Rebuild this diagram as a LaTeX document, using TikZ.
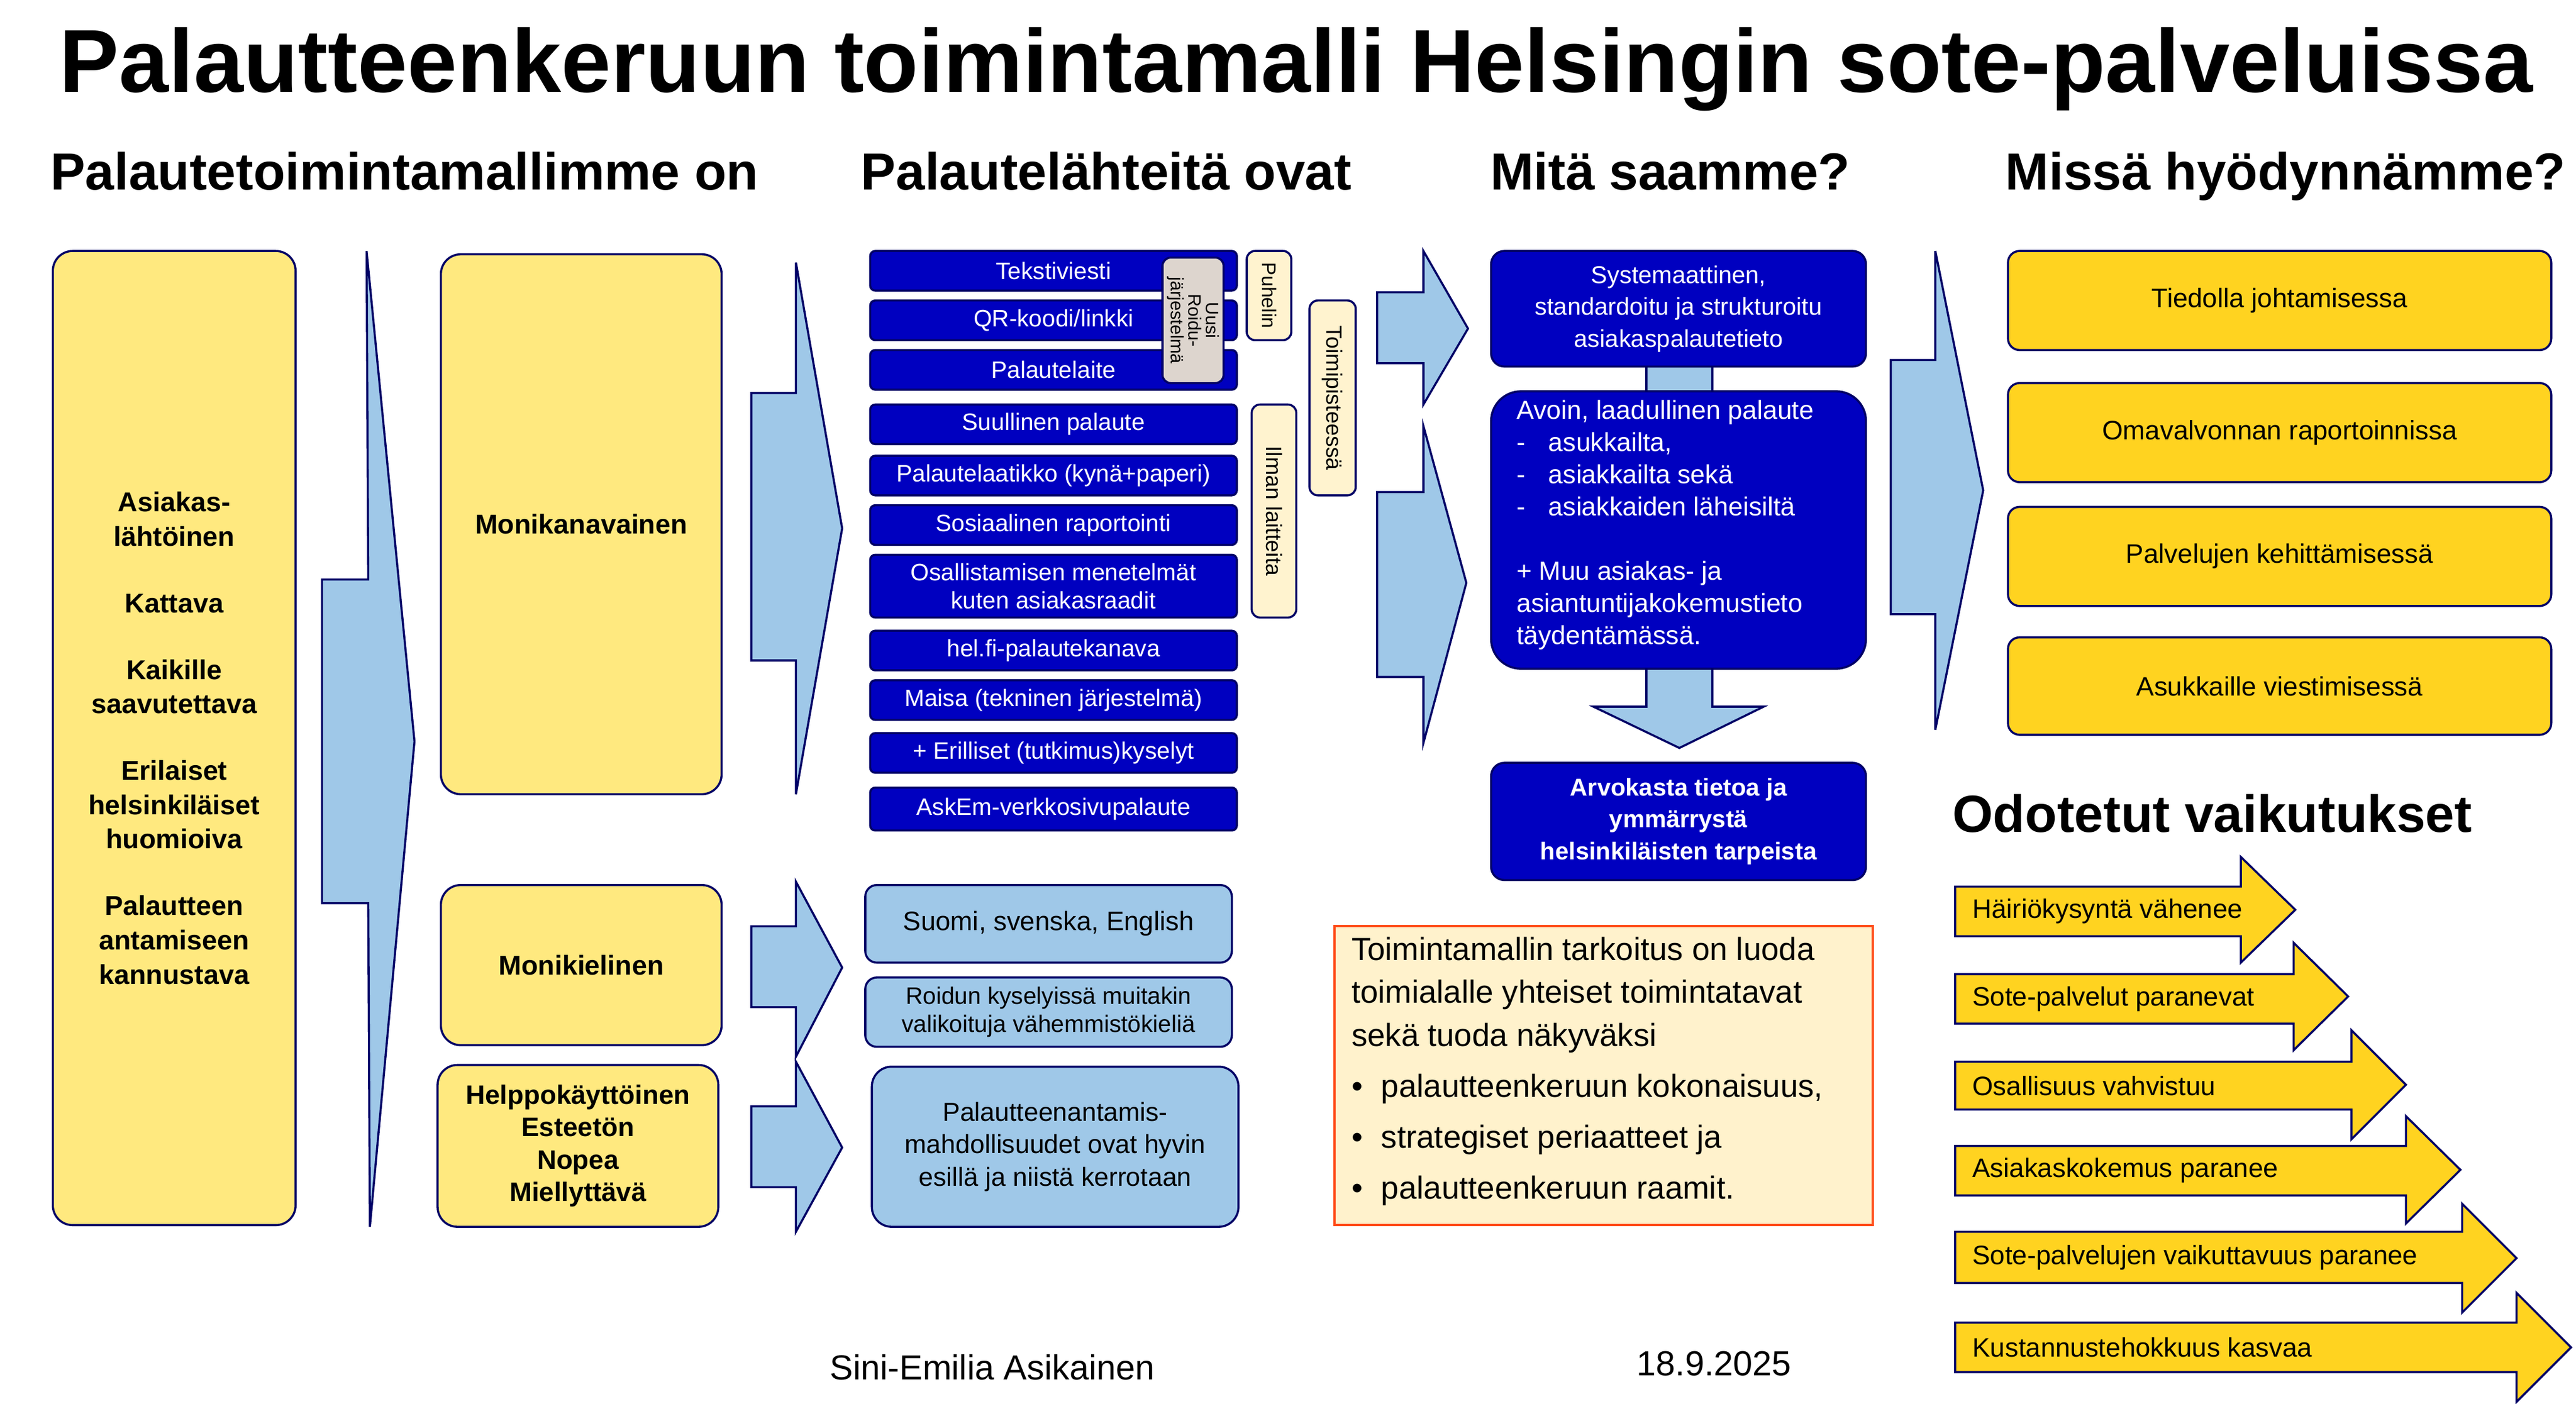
\documentclass[tikz,border=0pt]{standalone}
\usepackage{fontspec}
\setmainfont{Liberation Sans}
\definecolor{pyel}{HTML}{FFE97F}
\definecolor{navy}{HTML}{000066}
\definecolor{dblue}{HTML}{0000C0}
\definecolor{lblue}{HTML}{9FC8E8}
\definecolor{gold}{HTML}{FFD320}
\definecolor{cream}{HTML}{FFF3CF}
\definecolor{gray1}{HTML}{DDD5CE}
\definecolor{oran}{HTML}{FF4D1A}
\definecolor{ofill}{HTML}{FFF2CC}
\newcommand\bx[7]{\node[#1, minimum width={(#5-#3)*0.05cm}, minimum height={(#6-#4)*0.05cm}] (#2) at ({(#3+#5)/2},{(#4+#6)/2}) {#7};}
\newcommand\rbx[7]{\node[#1, rotate=-90, minimum height={(#5-#3)*0.05cm}, minimum width={(#6-#4)*0.05cm}] (#2) at ({(#3+#5)/2},{(#4+#6)/2}) {#7};}
\tikzset{
 base/.style={draw=navy, line width=1.8pt, inner sep=1pt, align=center},
 ybox/.style={base, fill=pyel, rounded corners=0.6cm, font=\bfseries\fontsize{23.5}{29.5}\selectfont},
 dbox/.style={base, fill=dblue, rounded corners=0.15cm, text=white, font=\fontsize{20.5}{24}\selectfont},
 cbox/.style={base, fill=dblue, rounded corners=0.5cm, text=white, font=\fontsize{21}{27.5}\selectfont},
 lbox/.style={base, fill=lblue, rounded corners=0.35cm, font=\fontsize{23}{27.5}\selectfont},
 gbox/.style={base, fill=gold, rounded corners=0.35cm, font=\fontsize{23}{27}\selectfont},
 tag/.style={base, fill=cream, rounded corners=0.25cm, font=\fontsize{15}{16}\selectfont},
 arr/.style={draw=navy, line width=1.8pt, fill=lblue},
 yarr/.style={draw=navy, line width=1.8pt, fill=gold},
 hdr/.style={font=\bfseries\fontsize{45}{50}\selectfont, anchor=base west},
}
\begin{document}
\begin{tikzpicture}[x=0.05cm, y=-0.05cm]
\useasboundingbox (0,0) rectangle (1560,850);
\node[font=\bfseries\fontsize{77}{80}\selectfont] (title) at (785,42) {Palautteenkeruun toimintamalli Helsingin sote-palveluissa};
\node[hdr] (h1) at (28,115) {Palautetoimintamallimme on};
\node[hdr] (h2) at (519,115) {Palautelähteitä ovat};
\node[hdr] (h3) at (900,115) {Mitä saamme?};
\node[hdr] (h4) at (1212,115) {Missä hyödynnämme?};
\node[hdr] (h5) at (1180,504) {Odotetut vaikutukset};

% column 1
\bx{ybox}{left}{32}{152}{179}{742}{Asiakas-\\lähtöinen\\[28pt]Kattava\\[28pt]Kaikille\\saavutettava\\[28pt]Erilaiset\\helsinkiläiset\\huomioiva\\[28pt]Palautteen\\antamiseen\\kannustava}
\draw[arr] (222,152) -- (251,449) -- (224,743) -- (223,547) -- (195,547) -- (195,351) -- (223,351) -- cycle;
\bx{ybox}{moka}{267}{154}{437}{481}{Monikanavainen}
\bx{ybox}{moki}{267}{536}{437}{633}{Monikielinen}
\bx{ybox, font=\bfseries\fontsize{23}{28}\selectfont}{help}{265}{645}{435}{743}{Helppokäyttöinen\\Esteetön\\Nopea\\Miellyttävä}
\draw[arr] (482,159) -- (510,320) -- (482,481) -- (482,400) -- (455,400) -- (455,238) -- (482,238) -- cycle;
\draw[arr] (482,534) -- (510,586) -- (482,640) -- (482,610) -- (455,610) -- (455,561) -- (482,561) -- cycle;
\draw[arr] (482,643) -- (510,695) -- (482,746) -- (482,719) -- (455,719) -- (455,670) -- (482,670) -- cycle;

% column 2
\bx{dbox}{s1}{527}{152}{749}{176}{Tekstiviesti}
\bx{dbox}{s2}{527}{182}{749}{206}{QR-koodi/linkki}
\bx{dbox}{s3}{527}{212}{749}{236}{Palautelaite}
\bx{dbox}{s4}{527}{245}{749}{269}{Suullinen palaute}
\bx{dbox}{s5}{527}{276}{749}{300}{Palautelaatikko (kynä+paperi)}
\bx{dbox}{s6}{527}{306}{749}{330}{Sosiaalinen raportointi}
\bx{dbox}{s7}{527}{336}{749}{374}{Osallistamisen menetelmät\\kuten asiakasraadit}
\bx{dbox}{s8}{527}{382}{749}{406}{hel.fi-palautekanava}
\bx{dbox}{s9}{527}{412}{749}{436}{Maisa (tekninen järjestelmä)}
\bx{dbox}{s10}{527}{444}{749}{468}{+ Erilliset (tutkimus)kyselyt}
\bx{dbox}{s11}{527}{477}{749}{503}{AskEm-verkkosivupalaute}
\rbx{tag, fill=gray1, font=\fontsize{15.5}{15}\selectfont}{roidu}{704}{156}{741}{232}{Uusi\\Roidu-\\järjestelmä}
\rbx{tag, font=\fontsize{17}{17}\selectfont}{puh}{755}{152}{782}{206}{Puhelin}
\rbx{tag, font=\fontsize{19}{19}\selectfont}{toimi}{793}{182}{821}{300}{Toimipisteessä}
\rbx{tag, font=\fontsize{19}{19}\selectfont}{ilman}{758}{245}{785}{374}{Ilman laitteita}
\bx{lbox}{kiel1}{524}{536}{746}{583}{Suomi, svenska, English}
\bx{lbox, font=\fontsize{20.5}{24}\selectfont}{kiel2}{524}{592}{746}{634}{Roidun kyselyissä muitakin\\valikoituja vähemmistökieliä}
\bx{lbox, rounded corners=0.6cm, font=\fontsize{22.5}{28}\selectfont}{esilla}{528}{646}{750}{743}{Palautteenantamis-\\mahdollisuudet ovat hyvin\\esillä ja niistä kerrotaan}

% column 3
\draw[arr] (862,152) -- (889,199) -- (862,245) -- (862,220) -- (834,220) -- (834,177) -- (862,177) -- cycle;
\draw[arr] (862,258) -- (888,353) -- (862,450) -- (862,410) -- (834,410) -- (834,298) -- (862,298) -- cycle;
\draw[arr] (997,215) -- (1037,215) -- (1037,428) -- (1068,428) -- (1017,453) -- (965,428) -- (997,428) -- cycle;
\bx{cbox, rounded corners=0.4cm}{sys}{903}{152}{1130}{222}{Systemaattinen,\\standardoitu ja strukturoitu\\asiakaspalautetieto}
\bx{cbox, rounded corners=0.9cm}{avoin}{903}{237}{1130}{405}{}
\node[text=white, font=\fontsize{22.5}{27.7}\selectfont, align=left, anchor=north west] (avt) at (916,240) {Avoin, laadullinen palaute\\-\hspace{20pt}asukkailta,\\-\hspace{20pt}asiakkailta sekä\\-\hspace{20pt}asiakkaiden läheisiltä\\[27.7pt]+ Muu asiakas- ja\\asiantuntijakokemustieto\\täydentämässä.};
\bx{cbox, rounded corners=0.4cm, font=\bfseries\fontsize{21}{27.5}\selectfont}{arvo}{903}{462}{1130}{533}{Arvokasta tietoa ja\\ymmärrystä\\helsinkiläisten tarpeista}
\bx{base, draw=oran, fill=ofill, line width=2pt}{tark}{808}{561}{1134}{742}{}
\node[font=\fontsize{27.5}{37}\selectfont, align=left, anchor=north west] (tarkt) at (816,565) {Toimintamallin tarkoitus on luoda\\toimialalle yhteiset toimintatavat\\sekä tuoda näkyväksi\\[7pt]•\hspace{16pt}palautteenkeruun kokonaisuus,\\[7pt]•\hspace{16pt}strategiset periaatteet ja\\[7pt]•\hspace{16pt}palautteenkeruun raamit.};

% column 4
\draw[arr] (1172,152) -- (1201,297) -- (1172,442) -- (1172,372) -- (1145,372) -- (1145,218) -- (1172,218) -- cycle;
\bx{gbox}{g1}{1216}{152}{1545}{212}{Tiedolla johtamisessa}
\bx{gbox}{g2}{1216}{232}{1545}{292}{Omavalvonnan raportoinnissa}
\bx{gbox}{g3}{1216}{307}{1545}{367}{Palvelujen kehittämisessä}
\bx{gbox}{g4}{1216}{386}{1545}{445}{Asukkaille viestimisessä}

\foreach \i/\xs/\yt/\ya/\yb/\yc/\t in {
 1/1357/519/537/567/583/Häiriökysyntä vähenee,
 2/1389/571/590/620/636/Sote-palvelut paranevat,
 3/1424/624/643/672/690/Osallisuus vahvistuu,
 4/1457/676/694/724/741/Asiakaskokemus paranee,
 5/1491/729/746/777/795/Sote-palvelujen vaikuttavuus paranee,
 6/1524/783/801/831/849/Kustannustehokkuus kasvaa}{
 \draw[yarr] (1184,\ya) -- (\xs,\ya) -- (\xs,\yt) -- ({\xs+33},{(\yt+\yc)/2}) -- (\xs,\yc) -- (\xs,\yb) -- (1184,\yb) -- cycle;
 \node[anchor=west, font=\fontsize{23}{25}\selectfont] (ya\i) at (1192,{(\ya+\yb)/2}) {\t};
}

\node[font=\fontsize{30}{32}\selectfont] (author) at (601,828) {Sini-Emilia Asikainen};
\node[font=\fontsize{30}{32}\selectfont] (date) at (1038,826) {18.9.2025};
\end{tikzpicture}
\end{document}
